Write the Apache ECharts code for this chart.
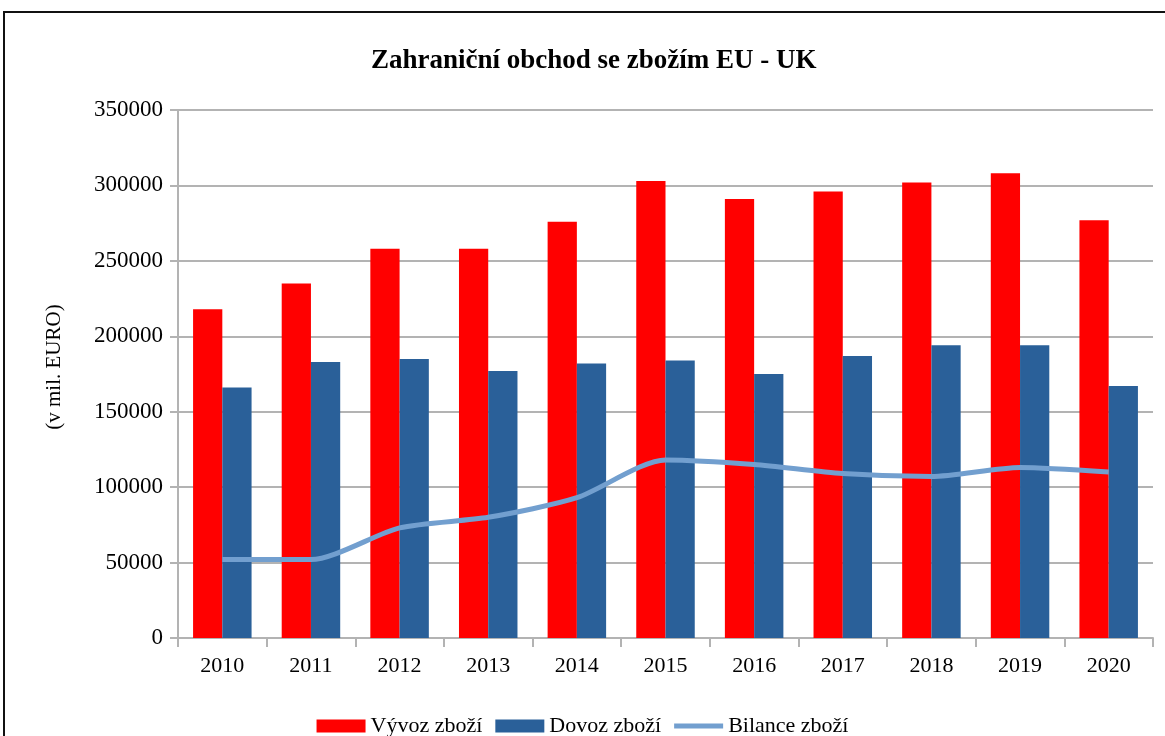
<!DOCTYPE html>
<html>
<head>
<meta charset="utf-8">
<script src="https://cdn.jsdelivr.net/npm/echarts@6/dist/echarts.min.js"></script>
<style>
  html, body { margin: 0; padding: 0; background: #fff; }
  #chart { width: 1165px; height: 736px; }
</style>
</head>
<body>
<div id="chart"></div>
<script>
// roky
const years = ['2010', '2011', '2012', '2013', '2014', '2015', '2016', '2017', '2018', '2019', '2020']
// hodnoty v mil. EURO
const vyvoz = [218000, 235000, 258000, 258000, 276000, 303000, 291000, 296000, 302000, 308000, 277000]
const dovoz = [166000, 183000, 185000, 177000, 182000, 184000, 175000, 187000, 194000, 194000, 167000]
const bilance = [52000, 52000, 73000, 80000, 93000, 118000, 115000, 109000, 107000, 113000, 110000]

const FONT = '"Liberation Serif", "DejaVu Serif", serif'

const chartDom = document.getElementById('chart')
const myChart = echarts.init(chartDom)

const option = {
  animation: false,
  textStyle: { fontFamily: FONT },
  title: {
    text: 'Zahraniční obchod se zbožím EU - UK',
    left: 366,
    top: 43,
    textStyle: {
      fontFamily: FONT,
      fontSize: 27,
      fontWeight: 'bold',
      color: '#000',
    },
  },
  // rámeček kolem grafu
  graphic: [
    {
      type: 'rect',
      shape: { x: 4, y: 12, width: 1170, height: 740 },
      style: { fill: 'none', stroke: '#111', lineWidth: 2 },
      silent: true,
    },
  ],
  grid: {
    left: 178,
    right: 12,
    top: 110,
    bottom: 98,
  },
  legend: {
    top: 710,
    left: 'center',
    itemWidth: 49,
    itemHeight: 13,
    itemGap: 13,
    textStyle: { fontFamily: FONT, fontSize: 22, color: '#000' },
    data: [
      { name: 'Vývoz zboží', icon: 'rect' },
      { name: 'Dovoz zboží', icon: 'rect' },
      { name: 'Bilance zboží', icon: 'path://M0,0 H49 V5 H0 Z' },
    ],
  },
  xAxis: {
    type: 'category',
    data: years,
    axisLine: { lineStyle: { color: '#b3b3b3', width: 2 } },
    axisTick: { show: true, length: 9, lineStyle: { color: '#b3b3b3', width: 2 } },
    axisLabel: { color: '#000', fontSize: 22, margin: 17, fontFamily: FONT },
  },
  yAxis: {
    type: 'value',
    min: 0,
    max: 350000,
    interval: 50000,
    name: '(v mil. EURO)',
    nameLocation: 'middle',
    nameGap: 113,
    nameRotate: 90,
    nameTextStyle: { fontFamily: FONT, fontSize: 21, color: '#000', padding: [0, 0, 0, 14] },
    axisLine: { show: true, lineStyle: { color: '#b3b3b3', width: 2 } },
    axisTick: { show: true, length: 8, lineStyle: { color: '#b3b3b3', width: 2 } },
    axisLabel: {
      color: '#000',
      fontSize: 23,
      margin: 15,
      fontFamily: FONT,
      formatter: (v) => String(v),
    },
    splitLine: { show: true, lineStyle: { color: '#b3b3b3', width: 2 } },
  },
  series: [
    {
      name: 'Vývoz zboží',
      type: 'bar',
      data: vyvoz,
      barGap: '0%',
      barCategoryGap: '34%',
      itemStyle: { color: '#ff0000' },
    },
    {
      name: 'Dovoz zboží',
      type: 'bar',
      data: dovoz,
      itemStyle: { color: '#2a6099' },
    },
    {
      name: 'Bilance zboží',
      type: 'line',
      data: bilance,
      smooth: 0.25,
      symbol: 'none',
      lineStyle: { color: '#729fcf', width: 5 },
      itemStyle: { color: '#729fcf' },
    },
  ],
}

option && myChart.setOption(option)
</script>
</body>
</html>
